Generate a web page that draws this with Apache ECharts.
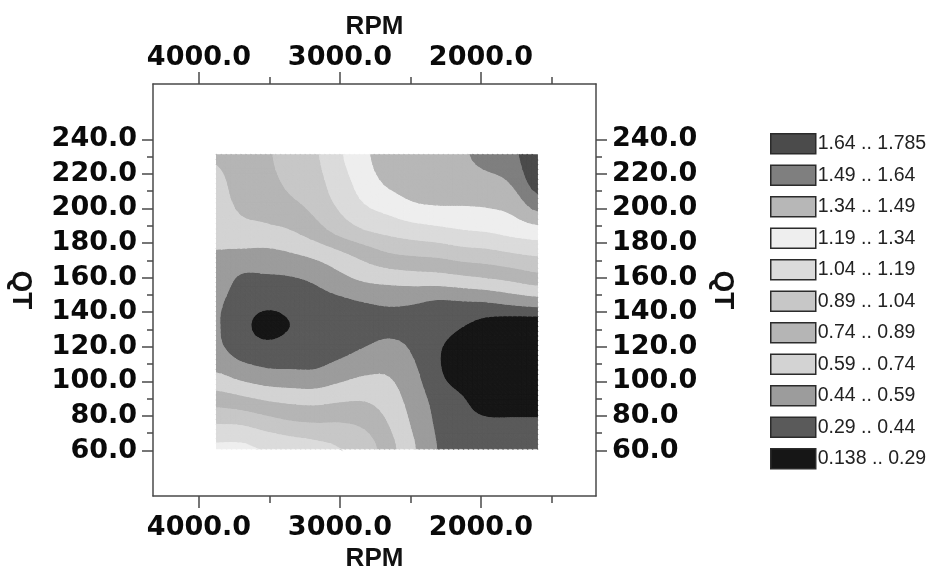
<!DOCTYPE html>
<html>
<head>
<meta charset="utf-8">
<style>
  html, body { margin: 0; padding: 0; background: #ffffff; }
  #chart { width: 933px; height: 567px; }
</style>
<script src="https://cdn.jsdelivr.net/npm/echarts@6/dist/echarts.min.js"></script>
</head>
<body>
<div id="chart"></div>
<script>
// Sample positions of the response surface
const rpmValues = [3875, 3700, 3525, 3350, 3175, 3000, 2825, 2650, 2475, 2300, 2125, 1950, 1775, 1600];
const qtValues = [231, 217, 203, 188, 174, 160, 146, 132, 118, 104, 89, 75, 61];

// Surface values, one row per QT level (QT = 231 first), columns follow rpmValues
const zRow231 = [0.76, 0.84, 0.86, 0.98, 1.02, 1.17, 1.30, 1.45, 1.47, 1.48, 1.47, 1.56, 1.60, 1.76];
const zRow217 = [0.70, 0.81, 0.84, 0.93, 0.99, 1.13, 1.26, 1.38, 1.42, 1.44, 1.43, 1.45, 1.52, 1.72];
const zRow203 = [0.67, 0.77, 0.80, 0.86, 0.94, 1.07, 1.19, 1.26, 1.33, 1.35, 1.35, 1.36, 1.40, 1.56];
const zRow188 = [0.63, 0.69, 0.71, 0.74, 0.83, 0.95, 1.04, 1.09, 1.13, 1.16, 1.19, 1.21, 1.25, 1.29];
const zRow174 = [0.58, 0.56, 0.55, 0.58, 0.63, 0.71, 0.80, 0.88, 0.91, 0.93, 0.97, 0.99, 1.03, 1.06];
const zRow160 = [0.52, 0.42, 0.42, 0.43, 0.47, 0.55, 0.62, 0.65, 0.67, 0.68, 0.71, 0.74, 0.78, 0.83];
const zRow146 = [0.46, 0.37, 0.33, 0.34, 0.38, 0.41, 0.44, 0.46, 0.45, 0.42, 0.43, 0.44, 0.48, 0.51];
const zRow132 = [0.45, 0.34, 0.23, 0.29, 0.33, 0.37, 0.38, 0.40, 0.39, 0.35, 0.29, 0.22, 0.18, 0.17];
const zRow118 = [0.47, 0.38, 0.35, 0.36, 0.36, 0.40, 0.45, 0.49, 0.42, 0.30, 0.21, 0.17, 0.15, 0.15];
const zRow104 = [0.60, 0.53, 0.48, 0.47, 0.47, 0.53, 0.58, 0.58, 0.47, 0.31, 0.21, 0.17, 0.15, 0.14];
const zRow89  = [0.82, 0.78, 0.73, 0.70, 0.69, 0.72, 0.73, 0.66, 0.52, 0.38, 0.30, 0.19, 0.18, 0.18];
const zRow75  = [1.04, 1.03, 0.97, 0.92, 0.90, 0.90, 0.86, 0.73, 0.56, 0.41, 0.35, 0.33, 0.33, 0.33];
const zRow61  = [1.22, 1.22, 1.17, 1.13, 1.09, 1.04, 0.97, 0.79, 0.60, 0.43, 0.40, 0.40, 0.40, 0.40];
const zGrid = [zRow231, zRow217, zRow203, zRow188, zRow174, zRow160, zRow146,
               zRow132, zRow118, zRow104, zRow89, zRow75, zRow61];

// Contour levels and the fill of each band (lowest band first)
const levelEdges = [0.138, 0.29, 0.44, 0.59, 0.74, 0.89, 1.04, 1.19, 1.34, 1.49, 1.64, 1.785];
const bandLabels = ['0.138 .. 0.29', '0.29 .. 0.44', '0.44 .. 0.59', '0.59 .. 0.74', '0.74 .. 0.89',
                    '0.89 .. 1.04', '1.04 .. 1.19', '1.19 .. 1.34', '1.34 .. 1.49', '1.49 .. 1.64', '1.64 .. 1.785'];
const bandColors = ['#161616', '#5a5a5a', '#9c9c9c', '#d3d3d3', '#b5b5b5',
                    '#c7c7c7', '#dbdbdb', '#eeeeee', '#b7b7b7', '#7f7f7f', '#4b4b4b'];

// Axis ticks
const rpmMajorTicks = [2000, 3000, 4000];
const rpmMinorTicks = [1500, 2500, 3500];
const qtMajorTicks = [60, 80, 100, 120, 140, 160, 180, 200, 220, 240];
const qtMinorTicks = [70, 90, 110, 130, 150, 170, 190, 210, 230];

// Smooth (Catmull-Rom) evaluation of the surface inside a grid cell
const SUBDIV = 5;
function cr(p0, p1, p2, p3, t) {
  const t2 = t * t, t3 = t2 * t;
  return 0.5 * ((2 * p1) + (-p0 + p2) * t + (2 * p0 - 5 * p1 + 4 * p2 - p3) * t2 + (-p0 + 3 * p1 - 3 * p2 + p3) * t3);
}
function zAt(i, j, u, v) {
  const nr = zGrid.length, nc = zGrid[0].length;
  const col = function (c) { return Math.min(nc - 1, Math.max(0, c)); };
  const row = function (r) { return Math.min(nr - 1, Math.max(0, r)); };
  const rowsVals = [];
  for (let dj = -1; dj <= 2; dj++) {
    const r = zGrid[row(j + dj)];
    rowsVals.push(cr(r[col(i - 1)], r[col(i)], r[col(i + 1)], r[col(i + 2)], u));
  }
  return cr(rowsVals[0], rowsVals[1], rowsVals[2], rowsVals[3], v);
}

// Keep the part of a polygon [[x, y, z], ...] on one side of level t
function clipPolygon(poly, t, keepAbove) {
  const out = [];
  for (let k = 0; k < poly.length; k++) {
    const a = poly[k], b = poly[(k + 1) % poly.length];
    const inA = keepAbove ? a[2] >= t : a[2] <= t;
    const inB = keepAbove ? b[2] >= t : b[2] <= t;
    if (inA) out.push(a);
    if (inA !== inB) {
      const f = (t - a[2]) / (b[2] - a[2]);
      out.push([a[0] + f * (b[0] - a[0]), a[1] + f * (b[1] - a[1]), t]);
    }
  }
  return out;
}

// Triangles of each cell, refined with the smooth surface
const cellTriangles = [];
for (let j = 0; j < qtValues.length - 1; j++) {
  for (let i = 0; i < rpmValues.length - 1; i++) {
    const pts = [];
    for (let b = 0; b <= SUBDIV; b++) {
      const rowPts = [];
      for (let a = 0; a <= SUBDIV; a++) {
        const u = a / SUBDIV, v = b / SUBDIV;
        rowPts.push([
          rpmValues[i] + u * (rpmValues[i + 1] - rpmValues[i]),
          qtValues[j] + v * (qtValues[j + 1] - qtValues[j]),
          zAt(i, j, u, v)
        ]);
      }
      pts.push(rowPts);
    }
    const tris = [];
    for (let b = 0; b < SUBDIV; b++) {
      for (let a = 0; a < SUBDIV; a++) {
        const p00 = pts[b][a], p10 = pts[b][a + 1], p01 = pts[b + 1][a], p11 = pts[b + 1][a + 1];
        tris.push([p00, p10, p11], [p00, p11, p01]);
      }
    }
    cellTriangles.push(tris);
  }
}

// Cells of the sample grid: [rpm centre, qt centre, cell index]
const cellData = [];
for (let j = 0; j < qtValues.length - 1; j++) {
  for (let i = 0; i < rpmValues.length - 1; i++) {
    cellData.push([(rpmValues[i] + rpmValues[i + 1]) / 2, (qtValues[j] + qtValues[j + 1]) / 2,
                   j * (rpmValues.length - 1) + i]);
  }
}

function makeBandRenderer(band) {
  const lo = band === 0 ? -Infinity : levelEdges[band];
  const hi = band === levelEdges.length - 2 ? Infinity : levelEdges[band + 1];
  const color = bandColors[band];
  return function (params, api) {
    const tris = cellTriangles[api.value(2)];
    const children = [];
    tris.forEach(function (tri) {
      let poly = tri;
      if (lo > -Infinity) poly = clipPolygon(poly, lo, true);
      if (poly.length >= 3 && hi < Infinity) poly = clipPolygon(poly, hi, false);
      if (poly.length >= 3) {
        children.push({
          type: 'polygon',
          shape: { points: poly.map(function (p) { return api.coord([p[0], p[1]]); }) },
          style: { fill: color, stroke: color, lineWidth: 1.1 }
        });
      }
    });
    return { type: 'group', children: children };
  };
}

const frameColor = '#4a4a4a';
const tickLabelStyle = {
  fontFamily: 'DejaVu Sans', fontWeight: 'bold', fontSize: 27, color: '#0a0a0a'
};
const axisNameStyle = {
  fontFamily: 'Liberation Sans', fontWeight: 'bold', fontSize: 26, color: '#111111'
};

function rpmAxis(position, ticks, major) {
  return {
    type: 'value', position: position, inverse: true, min: 1184, max: 4326,
    axisLine: { show: major, onZero: false, lineStyle: { color: frameColor, width: 1.5 } },
    axisTick: { show: true, customValues: ticks, length: major ? 12 : 7,
                lineStyle: { color: frameColor, width: 1.5 } },
    axisLabel: major
      ? Object.assign({ show: true, customValues: ticks, margin: position === 'bottom' ? 18 : 12.5,
          formatter: function (v) { return v.toFixed(1); } }, tickLabelStyle)
      : { show: false },
    splitLine: { show: false },
    name: major ? 'RPM' : '', nameLocation: 'middle',
    nameGap: position === 'bottom' ? 50 : 42,
    nameTextStyle: axisNameStyle
  };
}

function qtAxis(position, ticks, major) {
  return {
    type: 'value', position: position, min: 33.7, max: 272,
    axisLine: { show: major, onZero: false, lineStyle: { color: frameColor, width: 1.5 } },
    axisTick: { show: true, customValues: ticks, length: major ? 11 : 6,
                lineStyle: { color: frameColor, width: 1.5 } },
    axisLabel: major
      ? Object.assign({ show: true, customValues: ticks, margin: 16,
          formatter: function (v) { return v.toFixed(1); } }, tickLabelStyle)
      : { show: false },
    splitLine: { show: false },
    name: major ? 'QT' : '', nameLocation: 'middle', nameRotate: -90,
    nameGap: position === 'left' ? 118 : 113,
    nameTextStyle: Object.assign({}, axisNameStyle, { fontSize: 28 })
  };
}

const series = bandLabels.map(function (label, band) {
  return {
    type: 'custom', name: label, coordinateSystem: 'cartesian2d',
    xAxisIndex: 0, yAxisIndex: 0,
    encode: { x: 0, y: 1 },
    itemStyle: { color: bandColors[band] },
    renderItem: makeBandRenderer(band),
    data: cellData,
    silent: true
  };
});

const chart = echarts.init(document.getElementById('chart'), null, { renderer: 'canvas' });
chart.setOption({
  animation: false,
  backgroundColor: '#ffffff',
  grid: { left: 153, right: 337, top: 84, bottom: 71, outerBoundsMode: 'none', containLabel: false },
  xAxis: [
    rpmAxis('bottom', rpmMajorTicks, true),
    rpmAxis('bottom', rpmMinorTicks, false),
    rpmAxis('top', rpmMajorTicks, true),
    rpmAxis('top', rpmMinorTicks, false)
  ],
  yAxis: [
    qtAxis('left', qtMajorTicks, true),
    qtAxis('left', qtMinorTicks, false),
    qtAxis('right', qtMajorTicks, true),
    qtAxis('right', qtMinorTicks, false)
  ],
  legend: {
    orient: 'vertical', left: 765, top: 128,
    itemWidth: 45, itemHeight: 20, itemGap: 10,
    icon: 'rect', selectedMode: false,
    textStyle: { fontFamily: 'Liberation Sans', fontSize: 19.5, lineHeight: 20, color: '#222222',
                 padding: [0, 0, 0, -3] },
    data: bandLabels.slice().reverse().map(function (label) {
      const band = bandLabels.indexOf(label);
      return { name: label, itemStyle: { color: bandColors[band], borderColor: '#2b2b2b', borderWidth: 1.5 } };
    })
  },
  series: series
});
</script>
</body>
</html>
